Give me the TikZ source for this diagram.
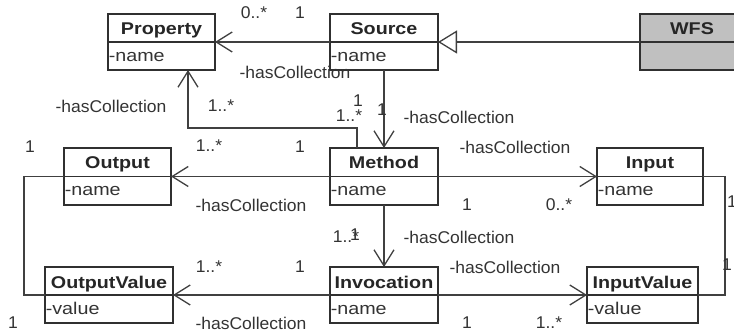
\documentclass[tikz,border=0pt]{standalone}
\usepackage{fontspec}
\setmainfont{Liberation Sans}
\newfontfamily\boxfont{Liberation Sans}[FakeStretch=1.16]
\newfontfamily\labfont{Liberation Sans}[FakeStretch=1.03]
\usetikzlibrary{arrows.meta,calc}
\definecolor{linec}{HTML}{404040}
\definecolor{boxc}{HTML}{303030}
\definecolor{wfsfill}{HTML}{C0C0C0}
\tikzset{
  classbox/.style={draw=boxc, line width=1.2pt, fill=white, inner sep=0pt, outer sep=0pt},
  classline/.style={draw=boxc, line width=1.2pt},
  titletext/.style={font=\boxfont\bfseries\fontsize{17}{20}\selectfont, inner sep=0pt, anchor=base, text=black!85},
  attrtext/.style={font=\boxfont\fontsize{17}{20}\selectfont, inner sep=0pt, anchor=base west, text=black!80},
  lab/.style={font=\labfont\fontsize{17}{20}\selectfont, inner sep=0pt, text=black!80},
  conn/.style={draw=linec, line width=1.3pt},
  assoc/.style={conn, -{Straight Barb[length=16pt,width=20pt,line width=1.3pt]}},
  gen/.style={conn, -{Triangle[open,length=19pt,width=23pt,line width=1.3pt,fill=white]}},
}
\newcommand{\umlclass}[8]{% name, x1, y1, x2, y2, title, attr, fill
  \node[classbox, fill=#8, minimum width={(#4-#2)*1pt}, minimum height={(#5-#3)*1pt}] (#1) at ({(#2+#4)/2},{(#3+#5)/2}) {};
  \draw[classline] (#1.west) -- (#1.east);
  \node[titletext] (#1-t) at ({(#2+#4)/2},{#3+21}) {#6};
  \node[attrtext] (#1-a) at ({#2+0.6},{#3+48}) {#7};
}
\begin{document}
\begin{tikzpicture}[x=1pt,y=-1pt]
\useasboundingbox (0,0) rectangle (734,331);
\clip (0,0) rectangle (734,331);
% classes
\umlclass{Property}{108}{14}{215}{70}{Property}{-name}{white}
\umlclass{Source}{330}{14}{438}{70}{Source}{-name}{white}
\umlclass{WFS}{640}{14}{744}{70}{WFS}{}{wfsfill}
\umlclass{Output}{64}{148}{171}{205}{Output}{-name}{white}
\umlclass{Method}{330}{148}{438}{205}{Method}{-name}{white}
\umlclass{Input}{597}{148}{703}{205}{Input}{-name}{white}
\umlclass{OutputValue}{45}{267}{173}{323}{OutputValue}{-value}{white}
\umlclass{Invocation}{330}{267}{438}{323}{Invocation}{-name}{white}
\umlclass{InputValue}{587}{267}{698}{323}{InputValue}{-value}{white}
% bend coordinates
\coordinate (mpA) at (357,128);
\coordinate (mpB) at (188,128);
\coordinate (ooA) at (24,176.5);
\coordinate (iiA) at (725,176.5);
% connectors
\draw[gen] (WFS.west) -- (Source.east);
\draw[assoc] (Source.west) -- (Property.east);
\draw[assoc] (Source.south) -- (Method.north);
\draw[assoc] (Method.north -| mpA) -- (mpA) -- (mpB) -- (Property.south -| mpB);
\draw[assoc] (Method.west) -- (Output.east);
\draw[assoc] (Method.east) -- (Input.west);
\draw[assoc] (Method.south) -- (Invocation.north);
\draw[assoc] (Invocation.west) -- (OutputValue.east);
\draw[assoc] (Invocation.east) -- (InputValue.west);
\draw[conn] (Output.west) -- (ooA) |- (OutputValue.west);
\draw[conn] (Input.east) -- (iiA) |- (InputValue.east);
% labels
\node[lab] (l1) at (254,13) {0..*};
\node[lab] (l2) at (300,13) {1};
\node[lab] (l3) at (295,72) {-hasCollection};
\node[lab] (l4) at (111,106) {-hasCollection};
\node[lab] (l5) at (221,106) {1..*};
\node[lab] (l6) at (358,101) {1};
\node[lab] (l7) at (349,116) {1..*};
\node[lab] (l8) at (382,110) {1};
\node[lab] (l9) at (459,117) {-hasCollection};
\node[lab] (l10) at (30,147) {1};
\node[lab] (l11) at (209,146) {1..*};
\node[lab] (l12) at (300,147) {1};
\node[lab] (l13) at (515,147) {-hasCollection};
\node[lab] (l14) at (251,205) {-hasCollection};
\node[lab] (l15) at (467,205) {1};
\node[lab] (l16) at (559,205) {0..*};
\node[lab] (l17) at (732,202) {1};
\node[lab] (l18) at (346,237) {1..*};
\node[lab] (l19) at (355,235) {1};
\node[lab] (l20) at (459,237) {-hasCollection};
\node[lab] (l21) at (209,267) {1..*};
\node[lab] (l22) at (300,267) {1};
\node[lab] (l23) at (505,267) {-hasCollection};
\node[lab] (l24) at (727,265) {1};
\node[lab] (l25) at (13,323) {1};
\node[lab] (l26) at (251,323) {-hasCollection};
\node[lab] (l27) at (467,323) {1};
\node[lab] (l28) at (549,323) {1..*};
\end{tikzpicture}
\end{document}
